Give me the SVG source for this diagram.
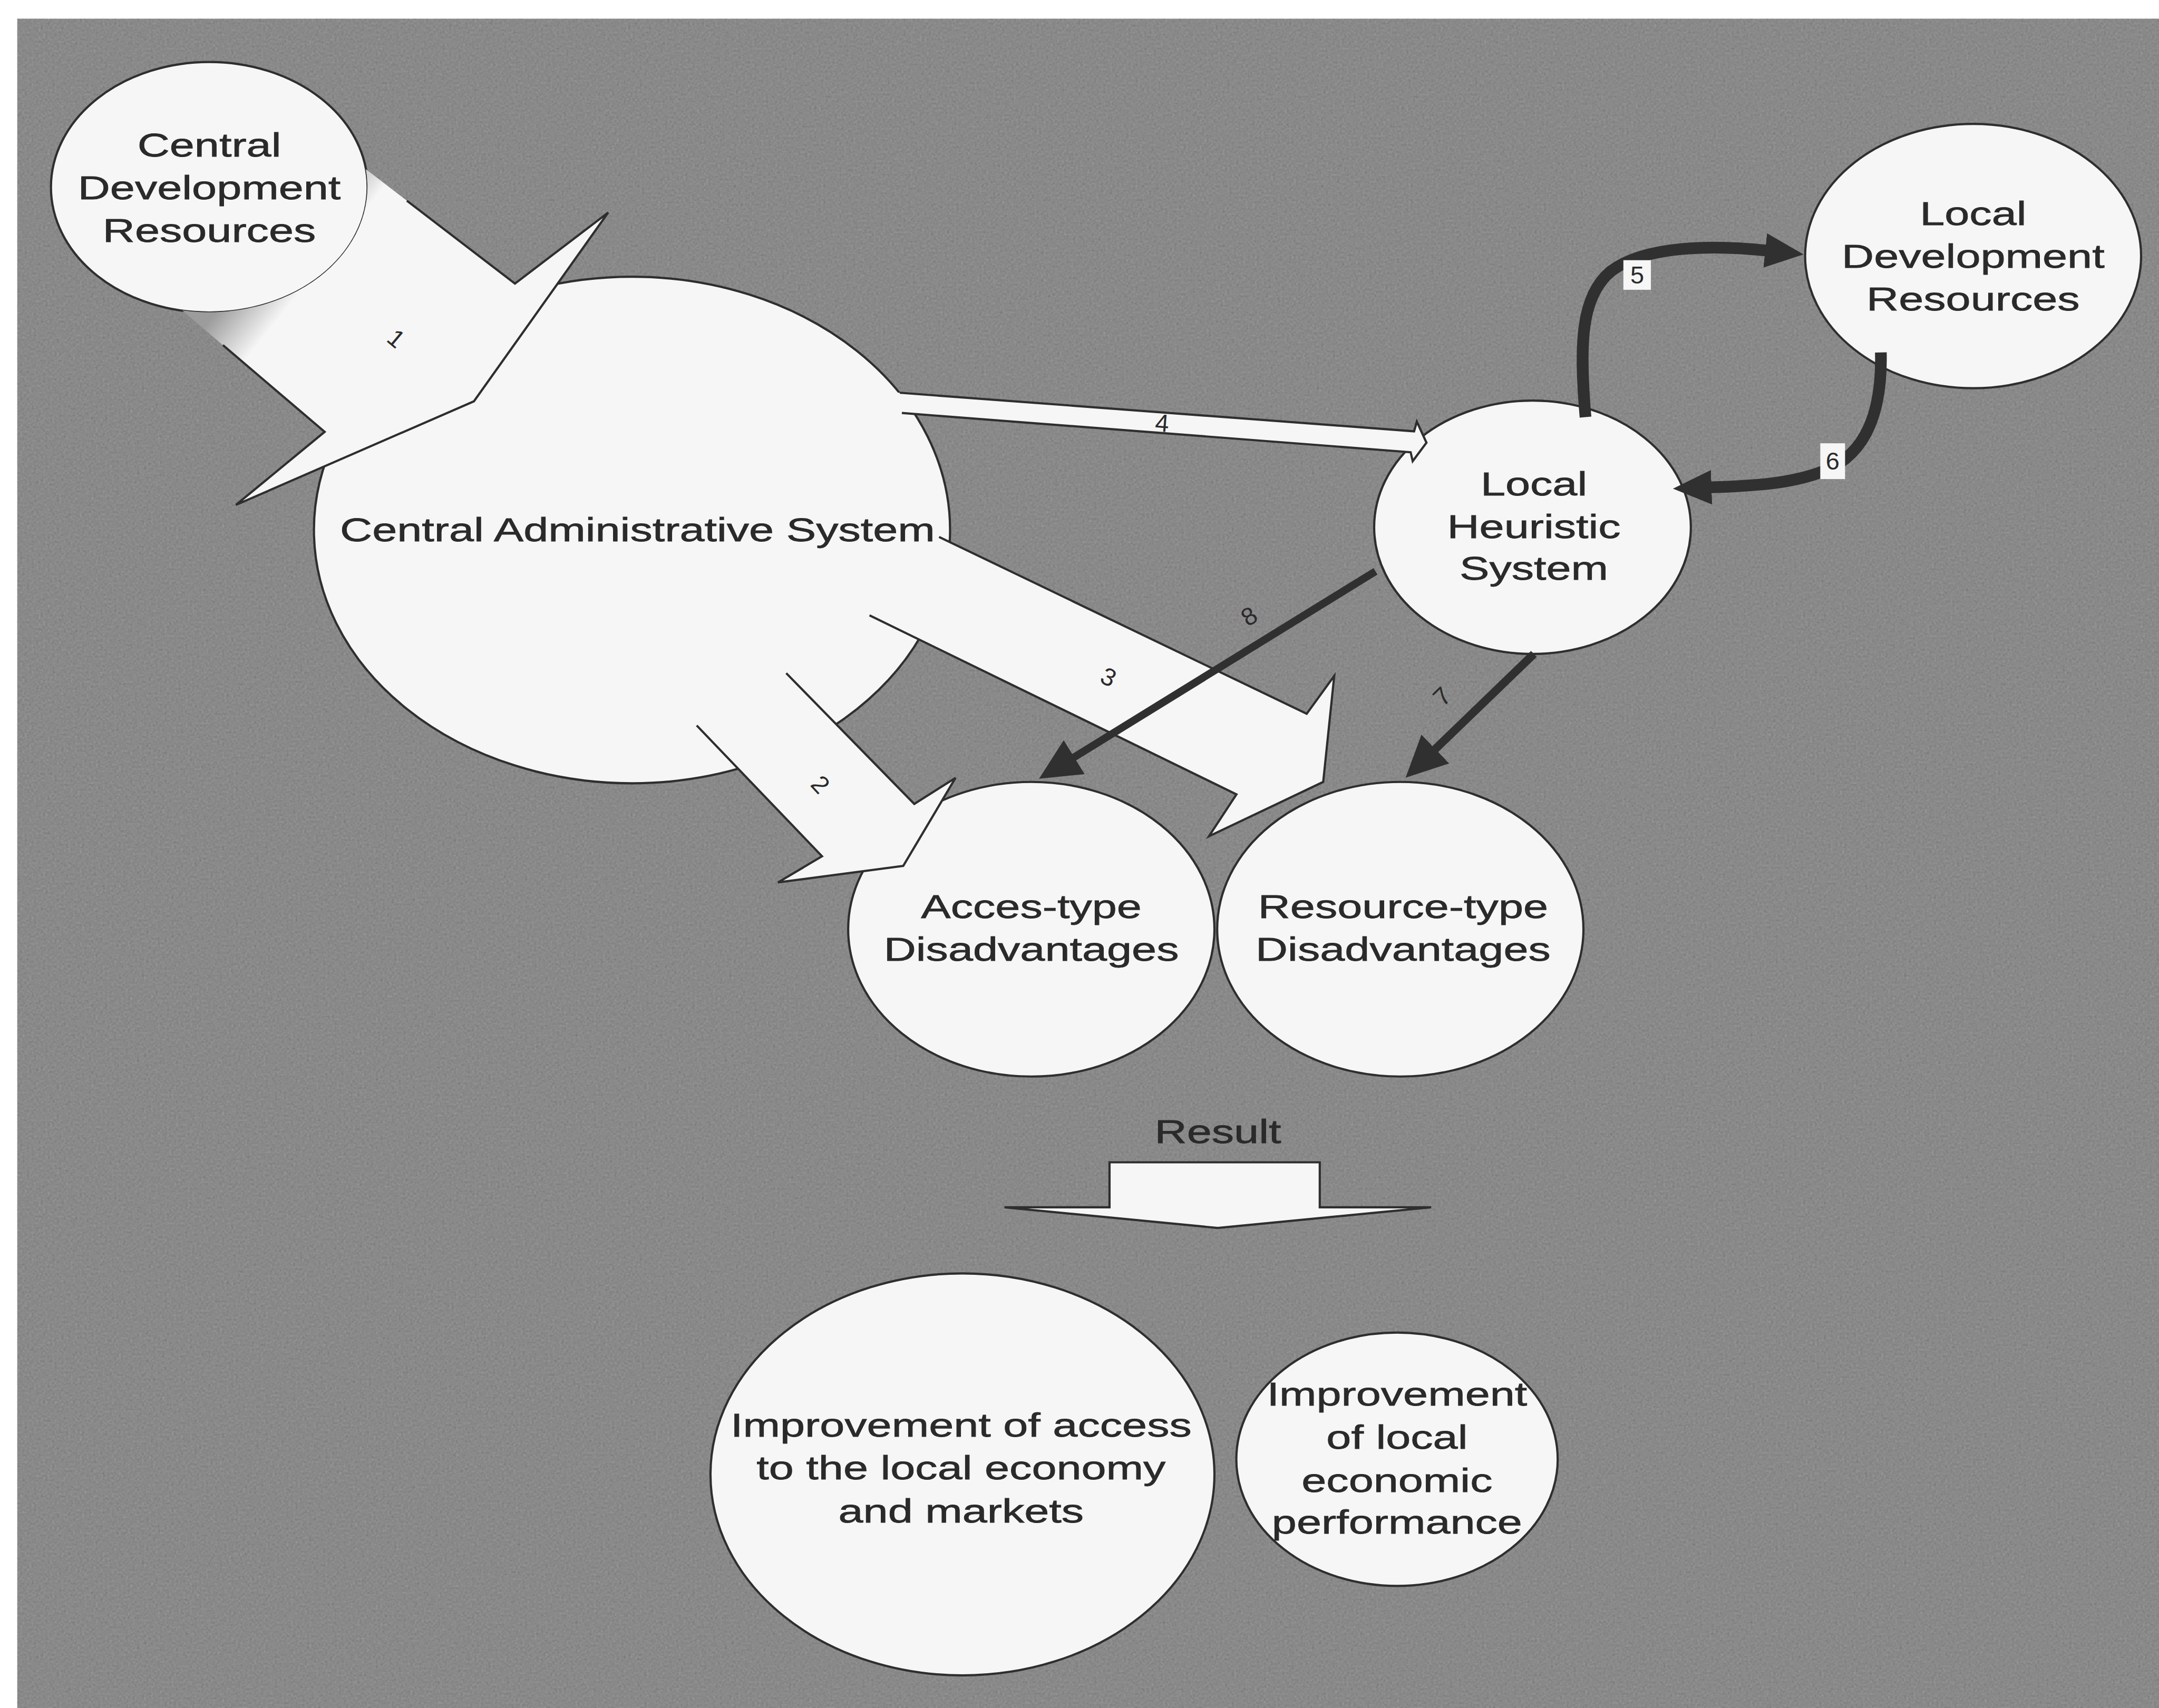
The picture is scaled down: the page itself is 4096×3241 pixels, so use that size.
<svg xmlns="http://www.w3.org/2000/svg" width="4096" height="3241" viewBox="0 0 4096 3241">
<defs>
<style>
.node{fill:#f6f6f6;stroke:#2e2e2e;stroke-width:1.6}
.lbl{font-family:"Liberation Sans",Arial,Helvetica,sans-serif;font-size:24px;fill:#2a2a2a;stroke:#2a2a2a;stroke-width:0.3;text-anchor:middle}
.num{font-family:"Liberation Sans",Arial,Helvetica,sans-serif;font-size:18px;fill:#2a2a2a;text-anchor:middle}
.blk{fill:#f6f6f6;stroke:none}
.edge{fill:none;stroke:#2e2e2e;stroke-width:1.6;stroke-linejoin:miter}
.dark{fill:none;stroke:#303030;stroke-linecap:butt}
.tag{fill:#f6f6f6;stroke:none}
</style>
<marker id="headThick" viewBox="0 0 28 25" markerWidth="28" markerHeight="25" refX="1" refY="12.5" orient="auto" markerUnits="userSpaceOnUse">
<path d="M0,0 L28,12.5 L0,25 z" fill="#303030"/>
</marker>
<marker id="headThin" viewBox="0 0 30 29" markerWidth="30" markerHeight="29" refX="1" refY="14.5" orient="auto" markerUnits="userSpaceOnUse">
<path d="M0,0 L30,14.5 L0,29 z" fill="#303030"/>
</marker>
<linearGradient id="tail1" gradientUnits="userSpaceOnUse" x1="199" y1="174" x2="229" y2="198">
<stop offset="0" stop-color="#9c9c9c"/>
<stop offset="1" stop-color="#f6f6f6"/>
</linearGradient>
<filter id="grain" filterUnits="userSpaceOnUse" x="12.6" y="13.6" width="1556" height="1228" color-interpolation-filters="sRGB">
<feTurbulence type="fractalNoise" baseFrequency="0.6" numOctaves="2" seed="7"/>
<feColorMatrix type="matrix" values="0.33 0.33 0.33 0 0  0.33 0.33 0.33 0 0  0.33 0.33 0.33 0 0  0 0 0 0 0.22"/>
</filter>
</defs>
<g transform="scale(2.61224)">
<rect x="0" y="0" width="1568" height="1241" fill="#ffffff"/>
<rect x="12.6" y="13.6" width="1556" height="1228" fill="#8c8c8c"/>
<rect x="12.6" y="13.6" width="1556" height="1228" fill="#8c8c8c" filter="url(#grain)"/>

<g id="nodes">
<g id="node-central-admin">
<ellipse class="node" cx="459" cy="385" rx="231" ry="184"/>
<g transform="matrix(1.35 0 0 1 463 0)"><text class="lbl" x="0" y="393">Central Administrative System</text></g>
</g>
<g id="node-central-dev">
<ellipse class="node" cx="152" cy="136" rx="115" ry="91"/>
<g transform="matrix(1.35 0 0 1 152 0)">
<text class="lbl" x="0" y="113.6">Central</text>
<text class="lbl" x="0" y="144.6">Development</text>
<text class="lbl" x="0" y="175.6">Resources</text>
</g>
</g>
<g id="node-local-dev">
<ellipse class="node" cx="1433" cy="186" rx="122" ry="96"/>
<g transform="matrix(1.35 0 0 1 1433 0)">
<text class="lbl" x="0" y="163.4">Local</text>
<text class="lbl" x="0" y="194.4">Development</text>
<text class="lbl" x="0" y="225.4">Resources</text>
</g>
</g>
<g id="node-local-heuristic">
<ellipse class="node" cx="1113" cy="383" rx="115" ry="92"/>
<g transform="matrix(1.35 0 0 1 1114 0)">
<text class="lbl" x="0" y="360">Local</text>
<text class="lbl" x="0" y="391">Heuristic</text>
<text class="lbl" x="0" y="421">System</text>
</g>
</g>
<g id="node-access-dis">
<ellipse class="node" cx="749" cy="675" rx="133" ry="107"/>
<g transform="matrix(1.35 0 0 1 749 0)">
<text class="lbl" x="0" y="667">Acces-type</text>
<text class="lbl" x="0" y="698">Disadvantages</text>
</g>
</g>
<g id="node-resource-dis">
<ellipse class="node" cx="1017" cy="675" rx="133" ry="107"/>
<g transform="matrix(1.35 0 0 1 1019 0)">
<text class="lbl" x="0" y="667">Resource-type</text>
<text class="lbl" x="0" y="698">Disadvantages</text>
</g>
</g>
<g id="node-improve-access">
<ellipse class="node" cx="699" cy="1071" rx="183" ry="146"/>
<g transform="matrix(1.35 0 0 1 698 0)">
<text class="lbl" x="0" y="1043.5">Improvement of access</text>
<text class="lbl" x="0" y="1074.7">to the local economy</text>
<text class="lbl" x="0" y="1106">and markets</text>
</g>
</g>
<g id="node-improve-perf">
<ellipse class="node" cx="1014.6" cy="1060" rx="116.7" ry="92"/>
<g transform="matrix(1.35 0 0 1 1014.6 0)">
<text class="lbl" x="0" y="1021">Improvement</text>
<text class="lbl" x="0" y="1052.4">of local</text>
<text class="lbl" x="0" y="1083.6">economic</text>
<text class="lbl" x="0" y="1114">performance</text>
</g>
</g>
</g>

<g id="connectors">
<g id="arrow-1">
<path d="M265.7,122.9 L295.5,145.8 L374,206 L441.7,154.4 L344.2,291.5 L171.3,366.8 L235.8,313.7 L161.9,250.7 L132.4,225.5 A115,91 0 0 0 265.7,122.9 Z" fill="url(#tail1)"/>
<path class="edge" d="M295.5,145.8 L374,206 L441.7,154.4 L344.2,291.5 L171.3,366.8 L235.8,313.7 L161.9,250.7"/>
<text class="num" transform="translate(287.6 246) rotate(40)" dy="6">1</text>
</g>
<g id="arrow-2">
<polygon class="blk" points="506,527 597,622 565,641 656,629 694,565 664,584 571,489"/>
<polyline class="edge" points="506,527 597,622 565,641 656,629 694,565 664,584 571,489"/>
<text class="num" transform="translate(595.7 570) rotate(47)" dy="6">2</text>
</g>
<g id="arrow-3">
<polygon class="blk" points="682,390 949,518.5 969,491 961,568 878,607.5 898,577 631.5,447"/>
<polyline class="edge" points="682,390 949,518.5 969,491 961,568 878,607.5 898,577 631.5,447"/>
<text class="num" transform="translate(805 492) rotate(26)" dy="6">3</text>
</g>
<g id="arrow-4">
<polygon class="blk" points="640,284.3 1027,313.3 1029,306.3 1036,321.6 1026,335 1024.5,328.5 640,299"/>
<polyline class="edge" points="653.5,285.3 1027,313.3 1029,306.3 1036,321.6 1026,335 1024.5,328.5 655,300"/>
<text class="num" transform="translate(844 307.5) rotate(4.3)" dy="6">4</text>
</g>
<g id="arrow-5">
<path class="dark" stroke-width="8.5" d="M1151.5,303 C1147,250 1148,215 1170,197 C1195,178 1245,178 1283,182" marker-end="url(#headThick)"/>
<rect class="tag" x="1179" y="189" width="20" height="21.5"/>
<text class="num" x="1189" y="206">5</text>
</g>
<g id="arrow-6">
<path class="dark" stroke-width="8.5" d="M1366,256 C1367,300 1355,330 1325,342 C1300,352 1270,353 1242,354" marker-end="url(#headThick)"/>
<rect class="tag" x="1322" y="322" width="18" height="26"/>
<text class="num" x="1331" y="341">6</text>
</g>
<g id="arrow-7">
<path class="dark" stroke-width="6" d="M1114,475 L1041.7,544.8" marker-end="url(#headThin)"/>
<text class="num" transform="translate(1047.5 506) rotate(-44)" dy="6">7</text>
</g>
<g id="arrow-8">
<path class="dark" stroke-width="5.5" d="M999,415 L779.3,550.5" marker-end="url(#headThin)"/>
<text class="num" transform="translate(907.3 447.8) rotate(-32)" dy="6">8</text>
</g>
<g id="arrow-result">
<polygon class="blk" points="805.8,844.3 958.5,844.3 958.5,877 1039.4,877 884.4,892 729.5,877 805.8,877"/>
<polygon class="edge" points="805.8,844.3 958.5,844.3 958.5,877 1039.4,877 884.4,892 729.5,877 805.8,877"/>
<g transform="matrix(1.35 0 0 1 884.5 0)"><text class="lbl" x="0" y="830.5">Result</text></g>
</g>
</g>
</g>
</svg>
